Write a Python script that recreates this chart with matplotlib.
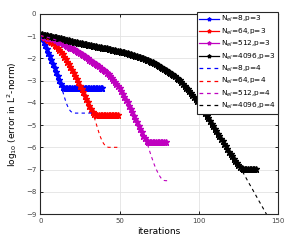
import numpy as np
import matplotlib.pyplot as plt

# log10 of the L2 error, one value per iteration
err_8_p3 = [-0.97, -1.10, -1.25, -1.41, -1.57, -1.74, -1.91, -2.08, -2.26, -2.44,
            -2.62, -2.80, -2.98, -3.16, -3.30, -3.35] + [-3.35] * 24

err_64_p3 = [-0.97, -1.00, -1.04, -1.08, -1.12, -1.16, -1.21, -1.26, -1.32, -1.39,
             -1.46, -1.54, -1.63, -1.72, -1.82, -1.92, -2.03, -2.14, -2.26, -2.39,
             -2.52, -2.66, -2.80, -2.94, -3.08, -3.23, -3.38, -3.53, -3.68, -3.83,
             -3.98, -4.13, -4.28, -4.42, -4.52] + [-4.55] * 15

err_512_p3 = [-0.97, -0.98, -1.00, -1.02, -1.04, -1.06, -1.08, -1.10, -1.13, -1.15,
              -1.18, -1.21, -1.24, -1.28, -1.31, -1.35, -1.39, -1.43, -1.47, -1.51,
              -1.55, -1.59, -1.63, -1.67, -1.72, -1.76, -1.81, -1.86, -1.90, -1.95,
              -2.00, -2.05, -2.10, -2.15, -2.20, -2.25, -2.30, -2.36, -2.41, -2.47,
              -2.52, -2.58, -2.65, -2.72, -2.79, -2.86, -2.95, -3.05, -3.15, -3.25,
              -3.35, -3.47, -3.59, -3.72, -3.85, -3.98, -4.12, -4.27, -4.42, -4.57,
              -4.72, -4.87, -5.02, -5.17, -5.32, -5.47, -5.60, -5.70, -5.76, -5.78] + [-5.78] * 10

err_4096_p3 = [-0.90, -0.91, -0.93, -0.94, -0.96, -0.97, -0.99, -1.00, -1.02, -1.03,
               -1.05, -1.07, -1.08, -1.10, -1.12, -1.13, -1.15, -1.17, -1.19, -1.20,
               -1.22, -1.24, -1.25, -1.27, -1.29, -1.30, -1.32, -1.33, -1.35, -1.36,
               -1.38, -1.39, -1.41, -1.42, -1.44, -1.45, -1.47, -1.48, -1.50, -1.51,
               -1.52, -1.54, -1.55, -1.57, -1.58, -1.60, -1.61, -1.63, -1.65, -1.66,
               -1.68, -1.70, -1.71, -1.73, -1.75, -1.77, -1.79, -1.81, -1.84, -1.86,
               -1.88, -1.90, -1.93, -1.95, -1.98, -2.00, -2.03, -2.06, -2.09, -2.12,
               -2.15, -2.18, -2.22, -2.25, -2.29, -2.33, -2.37, -2.41, -2.46, -2.50,
               -2.55, -2.59, -2.64, -2.69, -2.75, -2.81, -2.86, -2.92, -2.98, -3.05,
               -3.17, -3.24, -3.31, -3.39, -3.47, -3.55, -3.64, -3.72, -3.81, -3.90,
               -4.00, -4.11, -4.23, -4.35, -4.46, -4.58, -4.70, -4.82, -4.93, -5.05,
               -5.17, -5.28, -5.40, -5.51, -5.62, -5.73, -5.85, -5.96, -6.07, -6.19,
               -6.30, -6.40, -6.51, -6.62, -6.72, -6.81, -6.89, -6.94, -6.97, -6.98] + [-6.98] * 7

# p=4 runs: hidden under the p=3 curves until they split off
err_8_p4 = err_8_p3[:14] + [-3.45, -3.70, -3.93, -4.12, -4.27, -4.37, -4.43] + [-4.46] * 13
err_64_p4 = err_64_p3[:34] + [-4.65, -4.88, -5.12, -5.35, -5.55, -5.72, -5.84,
                              -5.93, -5.98] + [-6.00] * 8
err_512_p4 = err_512_p3[:68] + [-5.95, -6.18, -6.40, -6.60, -6.80, -6.97, -7.12,
                                -7.26, -7.37, -7.45, -7.49, -7.50, -7.50, -7.50]
err_4096_p4 = err_4096_p3[:127] + [-7.02, -7.15, -7.28, -7.40, -7.53, -7.66, -7.78,
                                   -7.91, -8.04, -8.16, -8.29, -8.42, -8.54, -8.67,
                                   -8.80, -8.92, -9.05]

series_p3 = [err_8_p3, err_64_p3, err_512_p3, err_4096_p3]
series_p4 = [err_8_p4, err_64_p4, err_512_p4, err_4096_p4]
n_el = [8, 64, 512, 4096]
colors = ['b', 'r', 'm', 'k']

fig = plt.figure(figsize=(2.99, 2.41), dpi=100)
ax = fig.add_axes([0.135, 0.112, 0.795, 0.830])

for vals, n, c in zip(series_p3, n_el, colors):
    ax.plot(np.arange(len(vals)), vals, color=c, marker='*', markersize=5,
            linewidth=1.2, label=r'N$_{el}$=%d,p=3' % n)
for vals, n, c in zip(series_p4, n_el, colors):
    ax.plot(np.arange(len(vals)), vals, color=c, linestyle='--', linewidth=0.8,
            dashes=(3, 3), label=r'N$_{el}$=%d,p=4' % n)

ax.set_xlim(0, 150)
ax.set_ylim(-9, 0)
ax.set_xticks([0, 50, 100, 150])
ax.set_yticks(range(-9, 1))
ax.tick_params(direction='in', top=True, right=True, labelsize=5, length=2.5,
               width=0.6, pad=3, labelcolor='#444444')
ax.grid(True, color='#e3e3e3', linewidth=0.6)
ax.set_axisbelow(True)
for s in ax.spines.values():
    s.set_linewidth(0.8)
    s.set_color('#262626')

ax.set_xlabel('iterations', fontsize=6.5, labelpad=2)
ax.set_ylabel(r'log$_{10}$ (error in L$^{2}$-norm)', fontsize=6.5, labelpad=4)

leg = ax.legend(loc='upper right', bbox_to_anchor=(1.0, 1.012), fontsize=5.3,
                handlelength=2.7, handletextpad=0.2, labelspacing=0.3,
                borderpad=0.35, borderaxespad=0, fancybox=False, framealpha=1,
                markerscale=0.55)
leg.get_frame().set_edgecolor('#262626')
leg.get_frame().set_linewidth(0.8)
for line in leg.get_lines():
    line.set_linewidth(0.9)

fig.savefig('out.png', dpi=100)
